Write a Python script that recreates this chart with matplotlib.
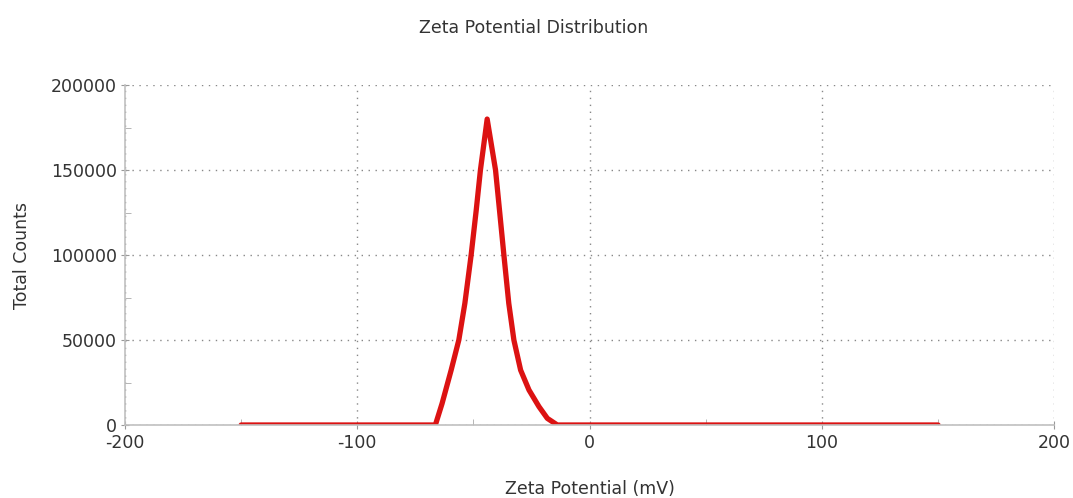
import numpy as np
import matplotlib
matplotlib.use("Agg")
import matplotlib.pyplot as plt
from matplotlib.ticker import MultipleLocator

plt.rcParams['font.family'] = ['DejaVu Sans']

# values
zeta_mv = [-150, -66.4, -63.5, -59.6, -56.3, -53.7, -51.0, -48.8, -47.0, -44.1,
           -40.5, -38.8, -36.9, -34.8, -32.6, -29.7, -26.1, -21.8, -18.2, -13.9, 150]
counts = [0, 0, 12700, 32300, 50000, 71600, 100000, 126500, 150000, 180000,
          150000, 126500, 100000, 71600, 50000, 32300, 20600, 10800, 3900, 0, 0]

x_ticks = [-200, -100, 0, 100, 200]
y_ticks = [0, 50000, 100000, 150000, 200000]

fig = plt.figure(figsize=(10.73, 4.98), dpi=100)
ax = fig.add_axes([0.1165, 0.1466, 0.866, 0.6826])

ax.plot(zeta_mv, counts, color='#dc1212', lw=3.8, solid_joinstyle='round',
        solid_capstyle='round')

ax.set_xlim(-200, 200)
ax.set_ylim(0, 200000)
ax.set_xticks(x_ticks)
ax.set_yticks(y_ticks)
ax.set_xticklabels([str(v) for v in x_ticks])
ax.set_yticklabels([str(v) for v in y_ticks])
ax.xaxis.set_minor_locator(MultipleLocator(50))
ax.yaxis.set_minor_locator(MultipleLocator(25000))

ax.grid(True, which='major', linestyle=(0, (1, 4)), color='#888888', lw=1.0)
for s in ['top', 'right']:
    ax.spines[s].set_visible(False)
for s in ['left', 'bottom']:
    ax.spines[s].set_color('#c0c0c0')
    ax.spines[s].set_linewidth(1.2)

ax.tick_params(which='major', direction='inout', length=6, color='#999999',
               labelsize=12.5, labelcolor='#333333')
ax.tick_params(axis='y', which='major', pad=3)
ax.tick_params(which='minor', direction='in', length=4, color='#aaaaaa')

ax.set_ylabel('Total Counts', fontsize=12.5, color='#333333', labelpad=14)
ax.set_xlabel('Zeta Potential (mV)', fontsize=12.5, color='#333333', labelpad=20)
fig.text(0.497, 0.944, 'Zeta Potential Distribution', ha='center', va='center',
         fontsize=12.5, color='#333333')

fig.savefig('out.png', dpi=100)
